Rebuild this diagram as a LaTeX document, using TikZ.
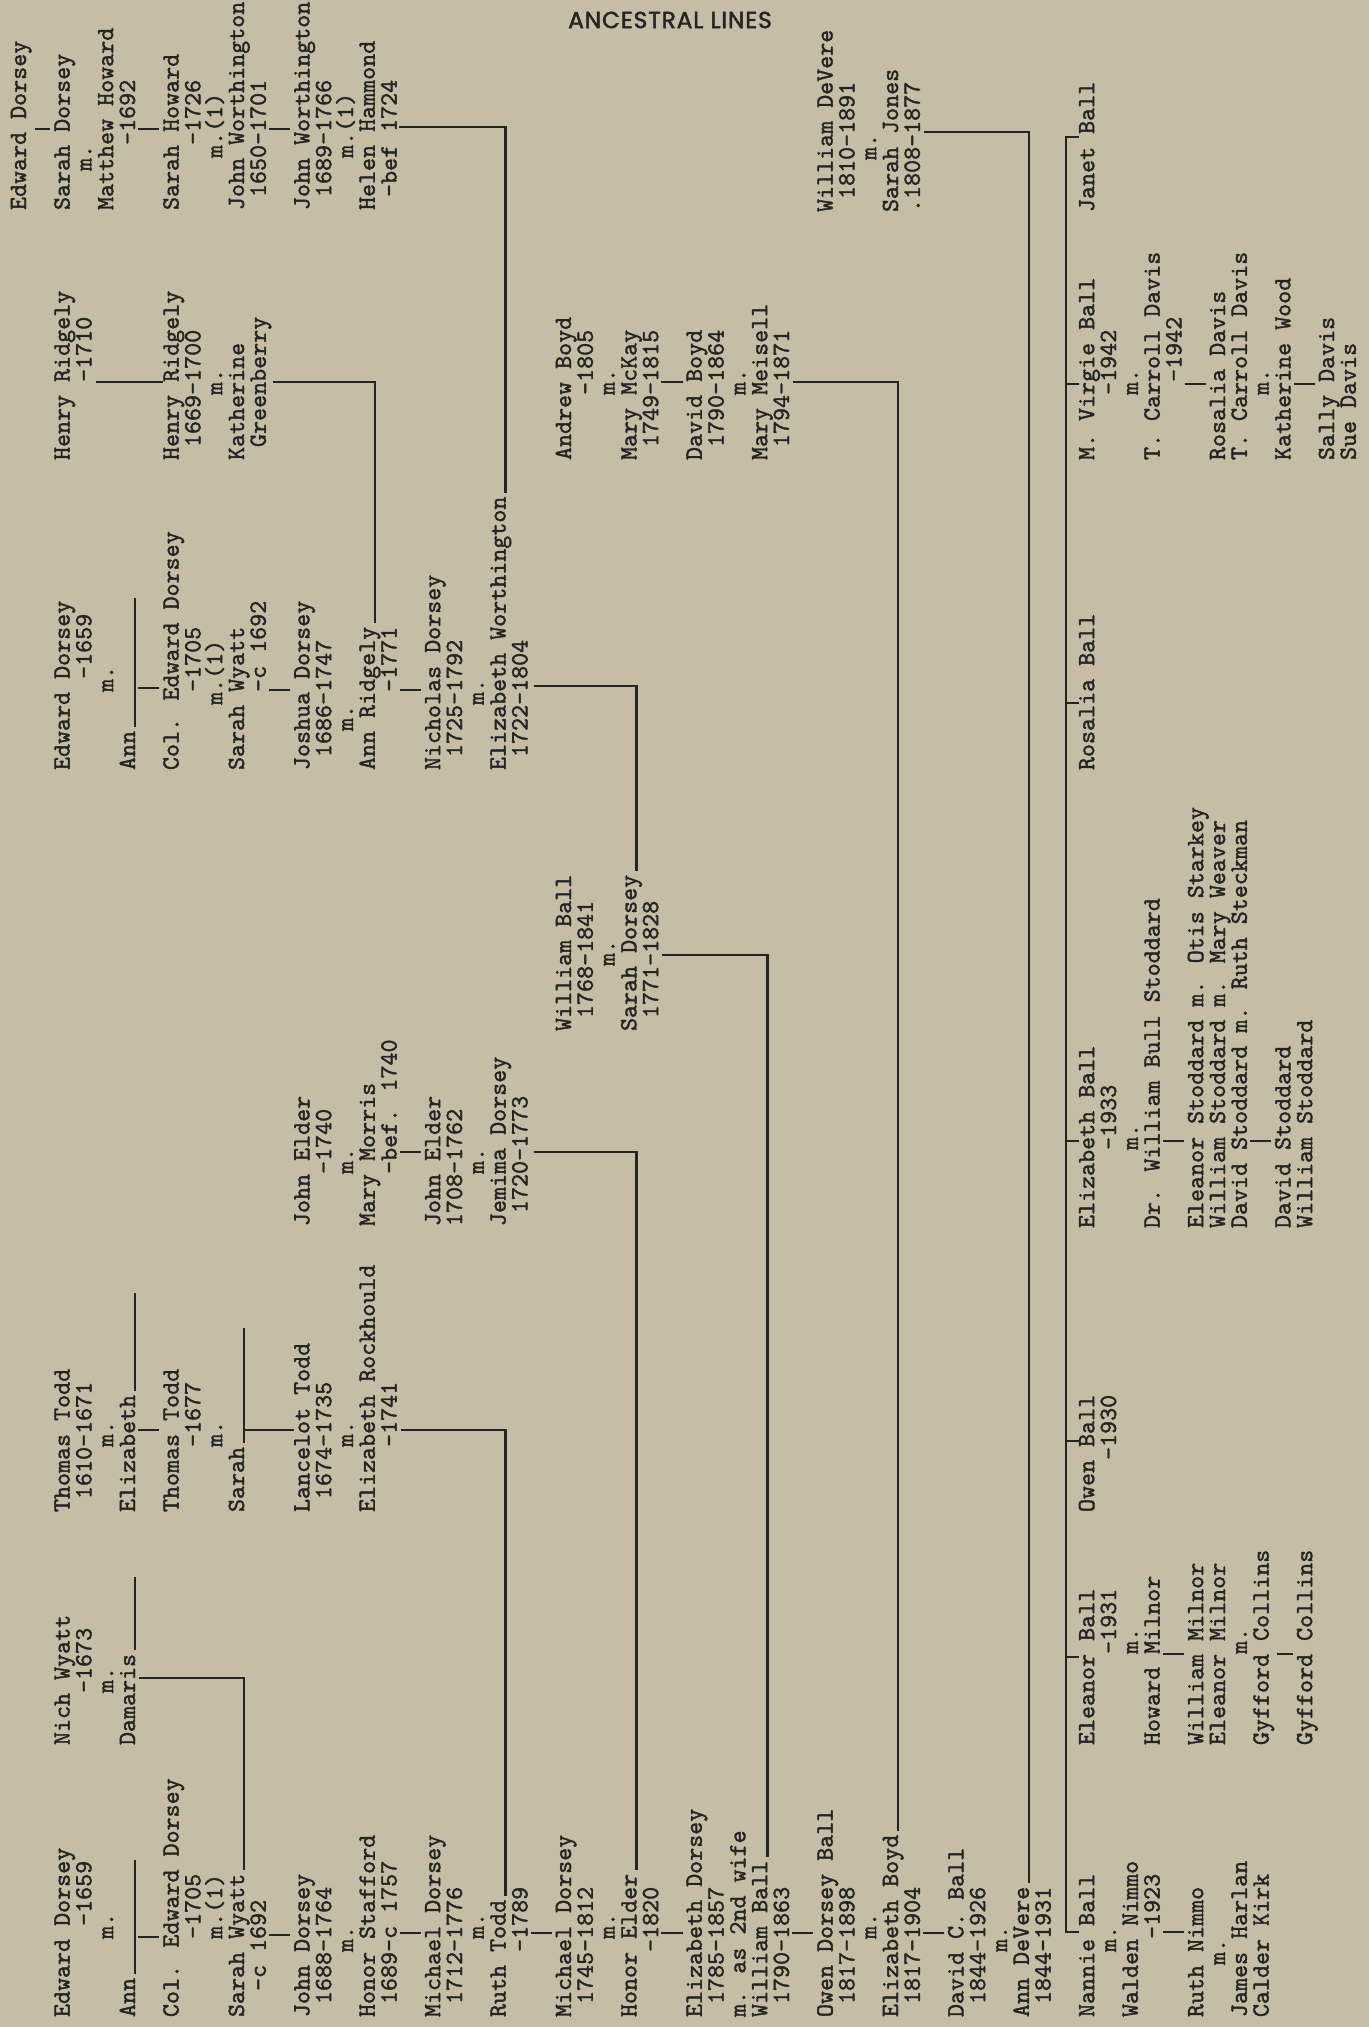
\documentclass[tikz,border=0pt]{standalone}
\usepackage{fontspec}
\newfontfamily\titlefont{Poppins}[FakeBold=2,LetterSpace=4]
\newfontfamily\typefont{lmmono10-regular.otf}[FakeBold=1.5]
\definecolor{paper}{RGB}{197,189,165}
\definecolor{ink}{RGB}{38,36,34}

% one typed block: name, first line number, start of the lines (px), lines
\newcommand\typeblock[4]{%
  \foreach \txt [count=\k from 0] in {#4}{%
    \node[typed] (#1-\k) at ({26+21.8*(#2+\k)},#3) {\txt};}}
% short descent mark between two typed lines
\newcommand\descent[3]{%
  \draw[link,shorten <=1.5pt,shorten >=2pt] (#1.south |- 0,#3) -- (#2.north |- 0,#3);}

\begin{document}
\begin{tikzpicture}[
  x=0.5pt, y=-0.5pt,
  typed/.style={rotate=90, anchor=base west, inner sep=0pt, outer sep=0pt, text=ink,
    font=\typefont\fontsize{12.4}{12.4}\selectfont},
  link/.style={draw=ink, line width=1.3pt},
  heading/.style={text=ink, inner sep=0pt, font=\titlefont\fontsize{11.6}{11.6}\selectfont}
]
\useasboundingbox (0,0) rectangle (1369,2027);
\fill[paper] (0,0) rectangle (1369,2027);

\node[heading] (title) at (670,20) {ANCESTRAL LINES};

\typeblock{tl}{0}{210}{Edward Dorsey,%
,%
Sarah Dorsey,%
~~~m.,%
Matthew Howard,%
~~~~~-1692,%
,%
Sarah Howard,%
~~~~~-1726,%
~~~~m.(1),%
John Worthington,%
~1650-1701,%
,%
John Worthington,%
~1689-1766,%
~~~~m.(1),%
Helen Hammond,%
~-bef 1724}

\typeblock{rg}{2}{460}{Henry Ridgely,%
~~~~~~-1710,%
,%
,%
,%
Henry Ridgely,%
~1669-1700,%
~~~~~m.,%
Katherine,%
~Greenberry}

\typeblock{dt}{2}{770}{Edward Dorsey,%
~~~~~~~-1659,%
~~~~~~m.,%
Ann,%
,%
Col. Edward Dorsey,%
~~~~~~-1705,%
~~~~~m.(1),%
Sarah Wyatt,%
~~~~~~-c 1692,%
,%
Joshua Dorsey,%
~1686-1747,%
~~~m.,%
Ann Ridgely,%
~~~~~~-1771,%
,%
Nicholas Dorsey,%
~1725-1792,%
~~~~~m.,%
Elizabeth Worthington,%
~1722-1804}

\typeblock{dv}{37}{212}{William DeVere,%
~1810-1891,%
~~~~m.,%
Sarah Jones,%
.1808-1877}

\typeblock{by}{25}{460}{Andrew Boyd,%
~~~~~-1805,%
~~~~~m.,%
Mary McKay,%
~1749-1815,%
,%
David Boyd,%
~1790-1864,%
~~~~~m.,%
Mary Meisell,%
~1794-1871}

\typeblock{wb}{25}{1031}{William Ball,%
~1768-1841,%
~~~~~m.,%
Sarah Dorsey,%
~1771-1828}

\typeblock{el}{13}{1226}{John Elder,%
~~~~-1740,%
~~~~m.,%
Mary Morris,%
~~~~-bef. 1740,%
,%
John Elder,%
1708-1762,%
~~~~m.,%
Jemima Dorsey,%
~1720-1773}

\typeblock{td}{2}{1512}{Thomas Todd,%
~1610-1671,%
~~~~~m.,%
Elizabeth,%
,%
Thomas Todd,%
~~~~~-1677,%
~~~~~m.,%
Sarah,%
,%
,%
Lancelot Todd,%
~1674-1735,%
~~~~~m.,%
Elizabeth Rockhould,%
~~~~~-1741}

\typeblock{ww}{2}{1745}{Nich Wyatt,%
~~~~-1673,%
~~~~m.,%
Damaris}

\typeblock{db}{2}{2017}{Edward Dorsey,%
~~~~~~~-1659,%
~~~~~~m.,%
Ann,%
,%
Col. Edward Dorsey,%
~~~~~~-1705,%
~~~~~~m.(1),%
Sarah Wyatt,%
~~-c 1692,%
,%
John Dorsey,%
~1688-1764,%
~~~~~m.,%
Honor Stafford,%
~1689-c 1757,%
,%
Michael Dorsey,%
~1712-1776,%
~~~~~~m.,%
Ruth Todd,%
~~~~~-1789,%
,%
Michael Dorsey,%
~1745-1812,%
~~~~~~m.,%
Honor Elder,%
~~~~~-1820,%
,%
Elizabeth Dorsey,%
~1785-1857,%
m. as 2nd wife,%
William Ball,%
~1790-1863,%
,%
Owen Dorsey Ball,%
~1817-1898,%
~~~~~~m.,%
Elizabeth Boyd,%
~1817-1904,%
,%
David C. Ball,%
~1844-1926,%
~~~~~m.,%
Ann DeVere,%
~1844-1931}

% children
\typeblock{jb}{49}{212}{Janet Ball}
\typeblock{vb}{49}{460}{M. Virgie Ball,%
~~~~~-1942,%
~~~~~m.,%
T. Carroll Davis,%
~~~~~~-1942,%
,%
Rosalia Davis,%
T. Carroll Davis,%
~~~~~m.,%
Katherine Wood,%
,%
Sally Davis,%
Sue Davis}
\typeblock{rb}{49}{770}{Rosalia Ball}
\typeblock{eb}{49}{1228}{Elizabeth Ball,%
~~~~~~-1933,%
~~~~~~m.,%
Dr. William Bull Stoddard,%
,%
Eleanor Stoddard m. Otis Starkey,%
William Stoddard m. Mary Weaver,%
David Stoddard m. Ruth Steckman,%
,%
David Stoddard,%
William Stoddard}
\typeblock{ob}{49}{1512}{Owen Ball,%
~~~~-1930}
\typeblock{nb}{49}{1745}{Eleanor Ball,%
~~~~~~~-1931,%
~~~~~~~m.,%
Howard Milnor,%
,%
William Milnor,%
Eleanor Milnor,%
~~~~~~~m.,%
Gyfford Collins,%
,%
Gyfford Collins}
\typeblock{nn}{49}{2017}{Nannie Ball,%
~~~~~m.,%
Walden Nimmo,%
~~~~~~-1923,%
,%
Ruth Nimmo,%
~~~~m.,%
James Harlan,%
Calder Kirk}

% lines of descent
\draw[link,shorten <=1pt] (tl-17.south |- 0,127) -| ([yshift=2pt]dt-20.base east);
\draw[link,shorten <=1pt] (rg-9.south |- 0,382) -| ([yshift=2pt]dt-14.base east);
\draw[link,shorten <=2pt] (rg-1.south |- 0,382) -- (rg-5.north |- 0,382);
\draw[link,shorten <=3pt] (dt-21.south |- 0,686) -| ([yshift=2pt]wb-3.base east);
\draw[link,shorten <=2pt] (wb-4.south |- 0,955) -| ([yshift=2pt]db-32.base east);
\draw[link,shorten <=3pt] (el-10.south |- 0,1152) -| ([yshift=2pt]db-26.base east);
\draw[link,shorten <=2pt] (td-15.south |- 0,1430) -| ([yshift=2pt]db-20.base east);
\draw[link,shorten <=2pt] (ww-3.south |- 0,1678) -| ([yshift=2pt]db-8.base east);
\draw[link,shorten <=2pt] (by-10.south |- 0,382) -| ([yshift=2pt]db-38.base east);
\draw[link,shorten <=2pt] (dv-4.south |- 0,132) -| ([yshift=2pt]db-44.base east);
\draw[link] (td-8.base |- 0,1430) -- (td-11.north |- 0,1430);

% blank surnames
\draw[link] ([yshift=2pt]dt-3.base east) -- (dt-3.base east |- 0,598);
\draw[link] ([yshift=2pt]db-3.base east) -- (db-3.base east |- 0,1860);
\draw[link] ([yshift=2pt]ww-3.base east) -- (ww-3.base east |- 0,1577);
\draw[link] ([yshift=2pt]td-3.base east) -- (td-3.base east |- 0,1293);
\draw[link] ([yshift=2pt]td-8.base east) -- (td-8.base east |- 0,1328);

\descent{tl-0}{tl-2}{129}
\descent{tl-5}{tl-7}{129}
\descent{tl-11}{tl-13}{129}
\descent{dt-3}{dt-5}{688}
\descent{dt-9}{dt-11}{690}
\descent{dt-15}{dt-17}{690}
\descent{db-3}{db-5}{1937}
\descent{db-9}{db-11}{1935}
\descent{db-15}{db-17}{1933}
\descent{db-21}{db-23}{1933}
\descent{db-27}{db-29}{1933}
\descent{db-33}{db-35}{1933}
\descent{db-39}{db-41}{1933}
\descent{td-3}{td-5}{1430}
\descent{el-4}{el-6}{1152}
\descent{by-4}{by-6}{382}
\descent{vb-4}{vb-6}{384}
\descent{vb-9}{vb-11}{384}
\descent{eb-3}{eb-5}{1141}
\descent{eb-7}{eb-9}{1141}
\descent{nb-3}{nb-5}{1654}
\descent{nb-8}{nb-10}{1654}
\descent{nn-3}{nn-5}{1932}

% the children of David C. Ball
\coordinate (sibtop) at (1066,137);
\coordinate (sibbot) at (1066,1932);
\draw[link] (jb-0.north |- sibtop) -- (sibtop) -- (sibbot) -- (nn-0.north |- sibbot);
\foreach \c/\y in {vb/384,rb/703,eb/1141,ob/1441,nb/1657}
  \draw[link] (sibtop |- 0,\y) -- (\c-0.north |- 0,\y);
\end{tikzpicture}
\end{document}
